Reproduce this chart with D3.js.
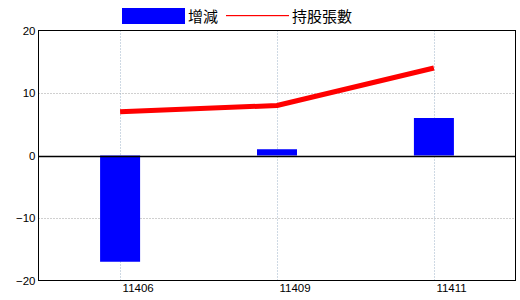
<!DOCTYPE html>
<html><head><meta charset="utf-8">
<script src="https://cdn.jsdelivr.net/npm/d3@7"></script>
<style>body{margin:0;background:#fff}svg{display:block}</style>
</head><body>
<script>
const categories = ["11406", "11409", "11411"];
const changeValues = [-17, 1, 6];      // 增減
const holdingValues = [7, 8, 14];      // 持股張數
const yTicks = [-20, -10, 0, 10, 20];
const seriesNames = ["增減", "持股張數"];

const W = 520, H = 300;
const svg = d3.select("body").append("svg").attr("width", W).attr("height", H);
const pL = 38.5, pR = 515.5, pT = 30.5, pB = 280.5;

const x = d3.scalePoint().domain(categories).range([pL, pR]).padding(0.52);
const y = d3.scaleLinear().domain([-20, 20]).range([pB, pT]);
const numFont = "Liberation Sans, Arial, sans-serif";
const cjkFont = "Noto Sans CJK TC, sans-serif";

// horizontal grid
svg.append("g").selectAll("line").data(yTicks.filter(t => t !== 0 && t !== 20 && t !== -20)).join("line")
  .attr("x1", pL).attr("x2", pR)
  .attr("y1", d => Math.round(y(d)) + 0.5).attr("y2", d => Math.round(y(d)) + 0.5)
  .attr("stroke", "#a0a0a0").attr("stroke-dasharray", "1,2");
// vertical grid
svg.append("g").selectAll("line").data(categories).join("line")
  .attr("x1", d => Math.round(x(d)) + 0.5).attr("x2", d => Math.round(x(d)) + 0.5)
  .attr("y1", pT).attr("y2", pB)
  .attr("stroke", "#9db3c8").attr("stroke-dasharray", "1,2");

// bars
const bw = 40;
svg.append("g").selectAll("rect").data(categories).join("rect")
  .attr("x", d => x(d) - bw / 2)
  .attr("width", bw)
  .attr("y", (d, i) => y(Math.max(0, changeValues[i])))
  .attr("height", (d, i) => Math.abs(y(changeValues[i]) - y(0)))
  .attr("fill", "#0000ff");

// zero line
svg.append("line").attr("x1", pL).attr("x2", pR)
  .attr("y1", Math.round(y(0)) + 0.5).attr("y2", Math.round(y(0)) + 0.5)
  .attr("stroke", "#000").attr("stroke-width", 1.3);

// line series
const line = d3.line().x(d => x(d[0])).y(d => y(d[1]));
svg.append("path").datum(categories.map((c, i) => [c, holdingValues[i]]))
  .attr("d", line).attr("fill", "none").attr("stroke", "#ff0000")
  .attr("stroke-width", 5).attr("stroke-linejoin", "round");

// frame
svg.append("rect").attr("x", pL).attr("y", pT).attr("width", pR - pL).attr("height", pB - pT)
  .attr("fill", "none").attr("stroke", "#000").attr("stroke-width", 1);

// y axis labels
const yAxis = d3.axisLeft(y).tickValues(yTicks).tickSize(0).tickPadding(3);
const gy = svg.append("g").attr("transform", `translate(${pL},0)`).call(yAxis);
gy.select(".domain").remove();
gy.selectAll("text").attr("font-family", numFont).attr("font-size", 11.5).attr("fill", "#000");

// x axis labels (left-aligned just right of category line)
const xAxis = d3.axisBottom(x).tickSize(0).tickPadding(3);
const gx = svg.append("g").attr("transform", `translate(0,${pB})`).call(xAxis);
gx.select(".domain").remove();
gx.selectAll("text").attr("font-family", numFont).attr("font-size", 11.5).attr("fill", "#000")
  .attr("text-anchor", "start").attr("dx", 2);

// legend
const lg = svg.append("g");
lg.append("rect").attr("x", 122).attr("y", 8).attr("width", 63).attr("height", 16).attr("fill", "#0000ff");
lg.append("text").attr("x", 188).attr("y", 22).text(seriesNames[0])
  .attr("font-family", cjkFont).attr("font-size", 15).attr("fill", "#000");
lg.append("rect").attr("x", 226).attr("width", 63).attr("y", 15).attr("height", 1.2)
  .attr("fill", "#ff0000");
lg.append("text").attr("x", 292).attr("y", 22).text(seriesNames[1])
  .attr("font-family", cjkFont).attr("font-size", 15).attr("fill", "#000");
</script>
</body></html>
